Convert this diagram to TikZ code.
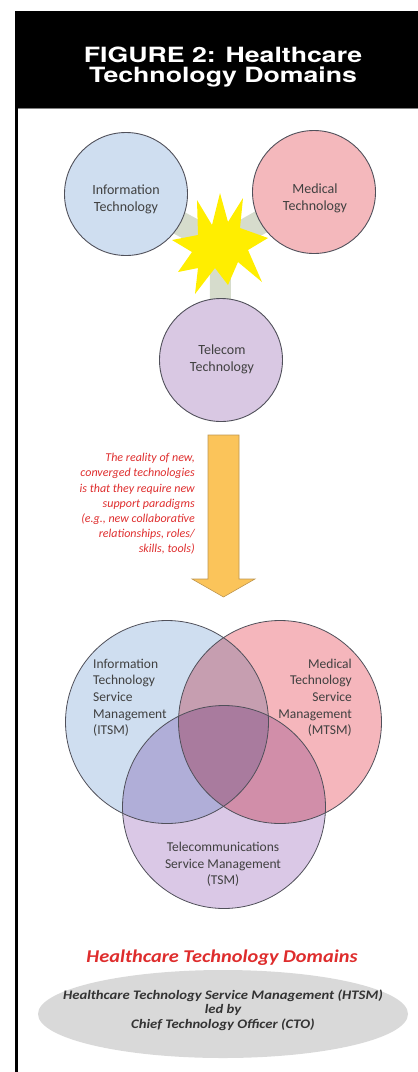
\documentclass[tikz,border=0pt]{standalone}
\usepackage{fontspec}
\setmainfont{Carlito}
\newfontfamily\widefont[FakeStretch=1.13]{Carlito}
\newfontfamily\headfont[FakeStretch=1.27]{TeX Gyre Heros}
\usetikzlibrary{shapes.geometric}
\definecolor{itblue}{RGB}{207,222,240}
\definecolor{medpink}{RGB}{244,184,188}
\definecolor{telpurple}{RGB}{217,200,227}
\definecolor{vitblue}{RGB}{207,222,240}
\definecolor{vmedpink}{RGB}{245,182,188}
\definecolor{vtelpurple}{RGB}{218,200,230}
\definecolor{bandgray}{RGB}{214,220,204}
\definecolor{staryellow}{RGB}{255,238,0}
\definecolor{arroworange}{RGB}{251,196,90}
\definecolor{arrowedge}{RGB}{190,150,80}
\definecolor{redtext}{RGB}{222,45,45}
\definecolor{txtgray}{RGB}{64,64,64}
\definecolor{circedge}{RGB}{80,80,90}
\definecolor{ellgray}{RGB}{217,217,217}
\begin{document}
\begin{tikzpicture}[x=1pt,y=-1pt,
  topcirc/.style={circle, draw=circedge, line width=0.9pt, minimum size=123pt, inner sep=0pt},
  toptext/.style={align=center, inner sep=0pt, text=txtgray, font=\fontsize{14}{17}\selectfont},
  venncirc/.style={circle, minimum size=203pt, inner sep=0pt, blend mode=multiply},
  vennedge/.style={circle, draw=circedge, line width=0.8pt, minimum size=203pt, inner sep=0pt},
  venntext/.style={text=txtgray, font=\fontsize{13.5}{16.7}\selectfont, inner sep=0pt},
  band/.style={line width=24pt, draw=bandgray},
]
\useasboundingbox (0,0) rectangle (418,1072);
% header
\fill[black] (15,11) rectangle (418,108);
\draw[gray, line width=1pt] (17,108.5) -- (418,108.5);
\draw[black, line width=3pt] (16.5,108) -- (16.5,1072);
\node[text=white, align=center, inner sep=0pt, font=\headfont\bfseries\fontsize{21}{20}\selectfont] (head) at (223,66.6) {FIGURE 2: Healthcare\\Technology Domains};

% convergence
\coordinate (burst) at (220,245);
\coordinate (itc) at (126,194);
\coordinate (mdc) at (314,192);
\coordinate (tlc) at (221,360);
\draw[band] (itc) -- (burst);
\draw[band] (mdc) -- (burst);
\draw[band, line width=21pt] (tlc) -- (burst);
\fill[staryellow] (220,193) -- (228,222) -- (243,198) -- (240,228) -- (268,238) -- (248,250) -- (262,282) -- (238,262) -- (228,285) -- (215,268) -- (195,294) -- (198,268) -- (178,272) -- (192,252) -- (172,240) -- (198,235) -- (197,200) -- (212,225) -- cycle;
\node[topcirc, fill=itblue] (it) at (itc) {};
\node[topcirc, fill=medpink] (md) at (mdc) {};
\node[topcirc, fill=telpurple] (tl) at (tlc) {};
\node[toptext] (ittext) at (126,199) {Information\\Technology};
\node[toptext] (mdtext) at (315,198) {Medical\\Technology};
\node[toptext] (tltext) at (222,359) {Telecom\\Technology};

% big arrow
\filldraw[fill=arroworange, draw=arrowedge, line width=0.6pt] (208,435) -- (239,435) -- (239,579) -- (255,579) -- (223.5,597) -- (192,579) -- (208,579) -- cycle;
\node[text=redtext, align=right, anchor=east, inner sep=0pt, font=\itshape\fontsize{12}{15.2}\selectfont] (note) at (195,504) {The reality of new,\\converged technologies\\is that they require new\\support paradigms\\(e.g., new collaborative\\relationships, roles/\\skills, tools)};

% venn
\node[venncirc, fill=vitblue] (itsm) at (167,722) {};
\node[venncirc, fill=vmedpink] (mtsm) at (280,722) {};
\node[venncirc, fill=vtelpurple] (tsm) at (224,807) {};
\node[vennedge] at (itsm) {};
\node[vennedge] at (mtsm) {};
\node[vennedge] at (tsm) {};
\node[venntext, anchor=north west, align=left] (itsmtext) at (93,658.5) {Information\\Technology\\Service\\Management\\(ITSM)};
\node[venntext, anchor=north east, align=right] (mtsmtext) at (352,658.5) {Medical\\Technology\\Service\\Management\\(MTSM)};
\node[venntext, align=center] (tsmtext) at (223,864.5) {Telecommunications\\Service Management\\(TSM)};

% bottom
\node[text=redtext, inner sep=0pt, font=\widefont\bfseries\itshape\fontsize{18}{20}\selectfont] (title) at (222,958) {Healthcare Technology Domains};
\node[ellipse, fill=ellgray, minimum width=370pt, minimum height=88pt, inner sep=0pt] (htsm) at (223,1014) {};
\node[text=txtgray!80!black, align=center, inner sep=0pt, font=\widefont\bfseries\itshape\fontsize{13}{14.5}\selectfont] (htsmtext) at (223,1010) {Healthcare Technology Service Management (HTSM)\\led by\\Chief Technology Officer (CTO)};
\end{tikzpicture}
\end{document}
